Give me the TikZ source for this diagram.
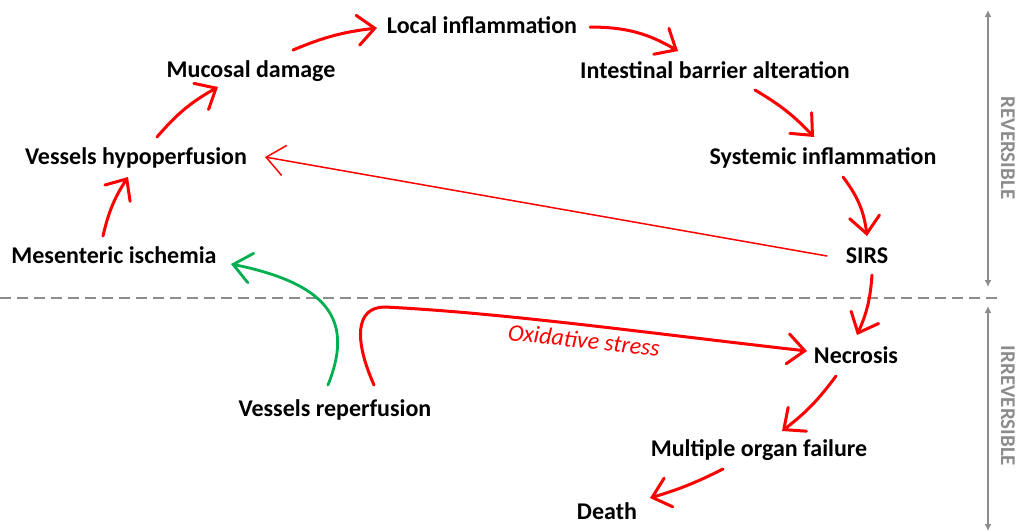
\documentclass[tikz,border=0pt]{standalone}
\usepackage{fontspec}
\setmainfont{Carlito}
\usetikzlibrary{arrows.meta}

\definecolor{arrowred}{RGB}{255,0,0}
\definecolor{arrowgreen}{RGB}{0,176,80}
\definecolor{zonegray}{RGB}{140,140,140}

\begin{document}
\begin{tikzpicture}[x=1pt,y=-1pt,
  stage/.style={font=\fontsize{24}{28}\selectfont\bfseries, inner sep=0pt, text height=17pt, text depth=5pt},
  zone/.style={font=\fontsize{21}{25}\selectfont\bfseries, text=zonegray, inner sep=0pt, rotate=-90},
  redarrow/.style={draw=arrowred, line width=3pt, line cap=round, -{Straight Barb[length=17pt,width=30pt,line cap=round]}},
  thinarrow/.style={draw=arrowred, line width=1.5pt, line cap=round, -{Straight Barb[length=18pt,width=30pt,line cap=round]}},
  greenarrow/.style={draw=arrowgreen, line width=2.8pt, line cap=round, -{Straight Barb[length=18pt,width=30pt,line cap=round]}},
  zonearrow/.style={draw=zonegray, line width=2pt, {Latex[length=7pt,width=7pt]}-{Latex[length=7pt,width=7pt]}}]
\useasboundingbox (0,0) rectangle (1017,531);

% stages
\node[stage] (mes) at (114,257) {Mesenteric ischemia};
\node[stage] (hypo) at (136,158) {Vessels hypoperfusion};
\node[stage] (muc) at (251,71) {Mucosal damage};
\node[stage] (loc) at (482,27) {Local inflammation};
\node[stage] (bar) at (715,72) {Intestinal barrier alteration};
\node[stage] (sys) at (823,158) {Systemic inflammation};
\node[stage] (sirs) at (867,257) {SIRS};
\node[stage] (nec) at (856,357) {Necrosis};
\node[stage] (mof) at (759,450) {Multiple organ failure};
\node[stage] (death) at (607,513) {Death};
\node[stage] (rep) at (335,410) {Vessels reperfusion};

% reversible / irreversible
\draw[zonegray, line width=2pt, dash pattern=on 11pt off 6pt] (0,298) -- (1000,298);
\coordinate (revtop) at (988,10);
\coordinate (revbot) at (988,287);
\coordinate (irrtop) at (988,306);
\coordinate (irrbot) at (988,531);
\draw[zonearrow] (revtop) -- (revbot);
\draw[zonearrow] (irrtop) -- (irrbot);
\node[zone] (rev) at (1008,148) {REVERSIBLE};
\node[zone] (irr) at (1008,406) {IRREVERSIBLE};

% cascade
\draw[redarrow] ([shift={(-11,-21)}]mes.center) to[bend left=10] ([shift={(-8,19)}]hypo.center);
\draw[redarrow] ([shift={(21,-21)}]hypo.center) to[bend left=10] ([shift={(-33,16)}]muc.center);
\draw[redarrow] ([shift={(42,-21)}]muc.center) to[bend left=8] ([shift={(-105,1)}]loc.center);
\draw[redarrow] ([shift={(108,0)}]loc.center) to[bend left=15] ([shift={(-37,-21)}]bar.center);
\draw[redarrow] ([shift={(40,18)}]bar.center) to[bend left=8] ([shift={(-9,-21)}]sys.center);
\draw[redarrow] ([shift={(20,19)}]sys.center) to[bend left=15] ([shift={(0,-21)}]sirs.center);
\draw[redarrow] ([shift={(5,18)}]sirs.center) to[bend left=10] ([shift={(1,-22)}]nec.center);
\draw[redarrow] ([shift={(-20,19)}]nec.center) to[bend left=8] ([shift={(23,-19)}]mof.center);
\draw[redarrow] ([shift={(-36,19)}]mof.center) to[bend left=5] ([shift={(43,-15)}]death.center);
\draw[thinarrow] ([shift={(-40,-1)}]sirs.center) -- ([shift={(129,-1)}]hypo.center);

% reperfusion
\draw[greenarrow] ([shift={(-7,-25)}]rep.center) .. controls +(24,-60) and +(104,21) .. ([shift={(117,7)}]mes.center);
\draw[redarrow] ([shift={(39,-25)}]rep.center) .. controls +(-20,-45) and +(-30,0) .. ++(11,-78)
  .. controls +(120,6) and +(-160,-18) .. ([shift={(-49,-6)}]nec.center);
\node[font=\fontsize{24}{28}\selectfont\itshape, text=arrowred, inner sep=0pt, rotate=-6] (ox) at (584,340) {Oxidative stress};
\end{tikzpicture}
\end{document}
